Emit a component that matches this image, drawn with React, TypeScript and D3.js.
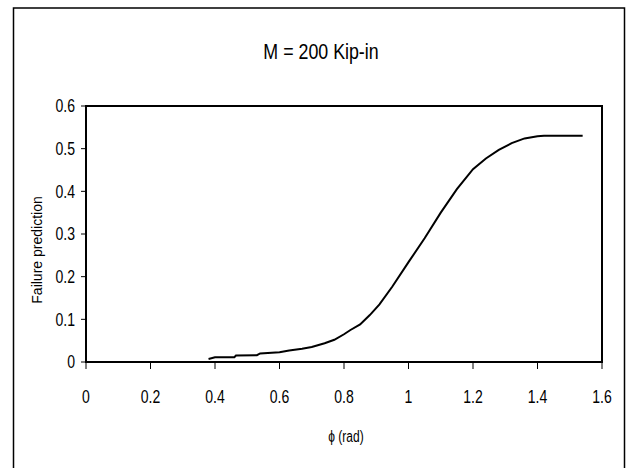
import React from "react";
import * as d3 from "d3";

const phiValues = [0.38, 0.40, 0.46, 0.465, 0.53, 0.54, 0.60, 0.63, 0.67, 0.70, 0.74, 0.77, 0.80, 0.82, 0.85, 0.88, 0.91, 0.95, 1.00, 1.05, 1.10, 1.15, 1.20, 1.24, 1.28, 1.32, 1.36, 1.40, 1.42, 1.54];
const failureValues = [0.007, 0.011, 0.011, 0.015, 0.016, 0.020, 0.023, 0.027, 0.031, 0.035, 0.044, 0.052, 0.065, 0.075, 0.088, 0.11, 0.135, 0.177, 0.234, 0.29, 0.35, 0.405, 0.452, 0.477, 0.497, 0.513, 0.524, 0.529, 0.530, 0.530];
const xTicks = [0, 0.2, 0.4, 0.6, 0.8, 1, 1.2, 1.4, 1.6];
const yTicks = [0, 0.1, 0.2, 0.3, 0.4, 0.5, 0.6];
const title = "M = 200 Kip-in";
const xTitle = "ϕ (rad)";
const yTitle = "Failure prediction";

const FONT = "'Liberation Sans', Arial, sans-serif";

function NText(props: { x: number; y: number; sx: number; size: number; anchor: string; dy?: string; children: React.ReactNode }) {
  const { x, y, sx, size, anchor, dy, children } = props;
  return (
    <text transform={`translate(${x},${y}) scale(${sx},1)`} textAnchor={anchor} fontSize={size} dy={dy} fill="#000">
      {children}
    </text>
  );
}

export default function App() {
  const W = 632, H = 468;
  const left = 86, right = 602, top = 106, bottom = 362;
  const x = d3.scaleLinear().domain([0, 1.6]).range([left, right]);
  const y = d3.scaleLinear().domain([0, 0.6]).range([bottom, top]);
  const data = phiValues.map((p, i) => [p, failureValues[i]] as [number, number]);
  const line = d3.line<[number, number]>().x(d => x(d[0])).y(d => y(d[1]));
  return (
    <svg width={W} height={H} style={{ position: "absolute", left: 0, top: 0 }} fontFamily={FONT}>
      <rect x={0} y={0} width={W} height={H} fill="#fff" />
      <rect x={13.5} y={8} width={611} height={480} fill="none" stroke="#000" strokeWidth={1.5} />
      <NText x={321} y={59} sx={0.81} size={22} anchor="middle">{title}</NText>
      <rect x={left} y={top} width={right - left} height={bottom - top} fill="none" stroke="#000" strokeWidth={2} />
      {yTicks.map(t => (
        <g key={"y" + t}>
          <line x1={left - 5} x2={left} y1={y(t)} y2={y(t)} stroke="#000" strokeWidth={1} />
          <NText x={75} y={y(t)} sx={0.78} size={18} anchor="end" dy="0.36em">{String(t)}</NText>
        </g>
      ))}
      {xTicks.map(t => (
        <g key={"x" + t}>
          <line x1={x(t)} x2={x(t)} y1={bottom} y2={bottom + 7} stroke="#000" strokeWidth={1} />
          <NText x={x(t)} y={403} sx={0.78} size={18} anchor="middle">{String(t)}</NText>
        </g>
      ))}
      <NText x={346} y={442} sx={0.75} size={16} anchor="middle">{xTitle}</NText>
      <text transform={`translate(42,${250}) rotate(-90)`} textAnchor="middle" fontSize={14} fill="#000">{yTitle}</text>
      <path d={line(data) || ""} fill="none" stroke="#000" strokeWidth={2} />
    </svg>
  );
}
